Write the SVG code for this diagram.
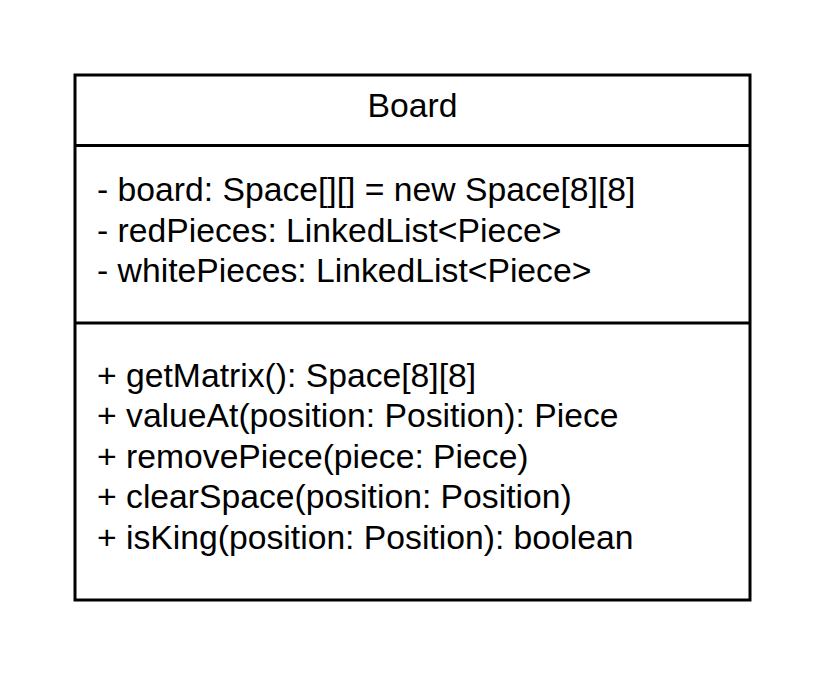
<svg xmlns="http://www.w3.org/2000/svg" width="825" height="675" viewBox="0 0 825 675">
  <style>
    .frame { fill: #ffffff; stroke: #000000; stroke-width: 3; }
    .rule { stroke: #000000; stroke-width: 3; }
    .txt { font-family: "Liberation Sans", Arial, sans-serif; font-size: 33.7px; fill: #000000; }
    .title { text-anchor: middle; }
  </style>
  <rect width="825" height="675" fill="#ffffff"/>
  <g id="Board">
    <rect class="frame" x="75" y="75" width="675" height="525"/>
    <line class="rule" x1="75" y1="145.5" x2="750" y2="145.5"/>
    <line class="rule" x1="75" y1="323" x2="750" y2="323"/>
    <text class="txt title" x="412.5" y="116.5">Board</text>
    <g id="attributes">
      <text class="txt" x="97" y="201">- board: Space[][] = new Space[8][8]</text>
      <text class="txt" x="97" y="241.5">- redPieces: LinkedList&lt;Piece&gt;</text>
      <text class="txt" x="97" y="282">- whitePieces: LinkedList&lt;Piece&gt;</text>
    </g>
    <g id="operations">
      <text class="txt" x="97" y="386.5">+ getMatrix(): Space[8][8]</text>
      <text class="txt" x="97" y="427">+ valueAt(position: Position): Piece</text>
      <text class="txt" x="97" y="467.5">+ removePiece(piece: Piece)</text>
      <text class="txt" x="97" y="508">+ clearSpace(position: Position)</text>
      <text class="txt" x="97" y="548.5">+ isKing(position: Position): boolean</text>
    </g>
  </g>
  <g id="connectors"/>
</svg>
